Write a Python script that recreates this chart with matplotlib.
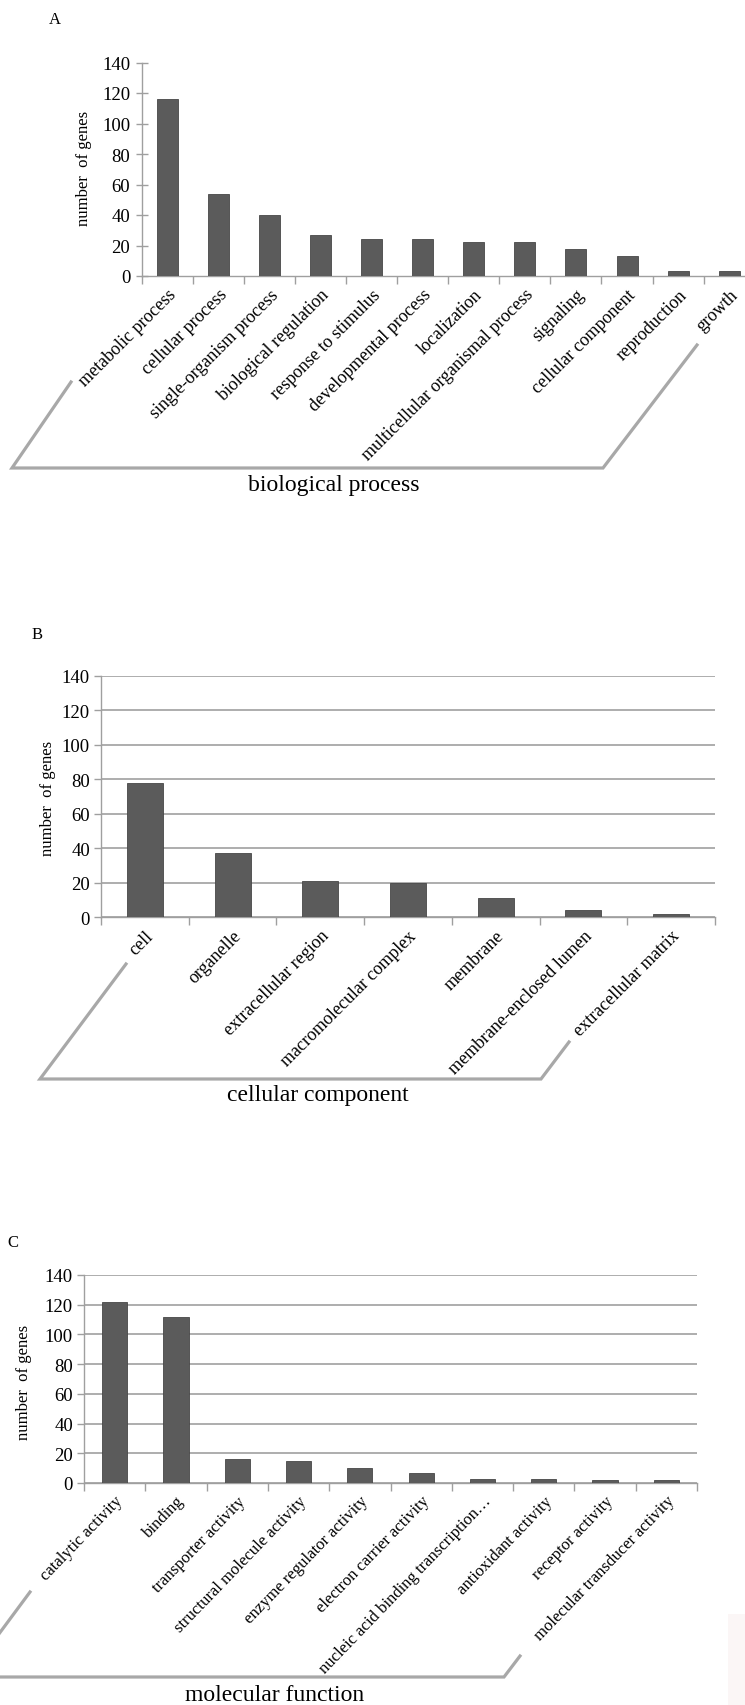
import matplotlib
matplotlib.use("Agg")
import matplotlib.pyplot as plt
from matplotlib.lines import Line2D
from matplotlib.patches import Rectangle

# ---- data -------------------------------------------------------------
bp_terms = ["metabolic process", "cellular process", "single-organism process",
            "biological regulation", "response to stimulus", "developmental process",
            "localization", "multicellular organismal process", "signaling",
            "cellular component", "reproduction", "growth"]
bp_counts = [116, 54, 40, 27, 24, 24, 22, 22, 18, 13, 3, 3]

cc_terms = ["cell", "organelle", "extracellular region", "macromolecular complex",
            "membrane", "membrane-enclosed lumen", "extracellular matrix"]
cc_counts = [78, 37, 21, 20, 11, 4, 2]

mf_terms = ["catalytic activity", "binding", "transporter activity",
            "structural molecule activity", "enzyme regulator activity",
            "electron carrier activity", "nucleic acid binding transcription\u2026",
            "antioxidant activity", "receptor activity", "molecular transducer activity"]
mf_counts = [122, 112, 16, 15, 10, 7, 3, 3, 2, 2]

y_ticks = [0, 20, 40, 60, 80, 100, 120, 140]

# ---- style ------------------------------------------------------------
W, H = 745, 1706
SERIF = ["Liberation Serif", "DejaVu Serif"]
BAR = "#5b5b5b"
BAR_EDGE = "#474747"
AXIS_GREY = "#9f9f9f"
BOX_GREY = "#a8a8a8"

plt.rcParams["font.family"] = SERIF

fig = plt.figure(figsize=(W / 100, H / 100), dpi=100)
fig.patch.set_facecolor("white")


def px_axes(left, top, right, bottom):
    """Axes rectangle given in pixel coordinates measured from the top-left."""
    return fig.add_axes([left / W, 1 - bottom / H, (right - left) / W, (bottom - top) / H])


def fx(x):
    return x / W


def fy(y):
    return 1 - y / H


def panel(ax, terms, counts, grid, ytick_dir, label_size, rot):
    n = len(terms)
    x = list(range(n))
    ax.bar(x, counts, width=0.41, color=BAR, edgecolor=BAR_EDGE, linewidth=0.6, zorder=3)
    ax.set_xlim(-0.5, n - 0.5)
    ax.set_ylim(0, 140)
    ax.set_yticks(y_ticks)
    ax.set_yticklabels([str(v) for v in y_ticks], fontsize=13.5, family=SERIF)
    for s in ("top", "right"):
        ax.spines[s].set_visible(False)
    for s in ("left", "bottom"):
        ax.spines[s].set_color(AXIS_GREY)
        ax.spines[s].set_linewidth(1.0)
    if grid:
        ax.yaxis.grid(True, color=AXIS_GREY, linewidth=1.2, zorder=0)
        ax.set_axisbelow(True)
    if ytick_dir == "inout":
        ax.tick_params(axis="y", direction="inout", length=8.5, width=1.0,
                       color=AXIS_GREY, pad=4)
    else:
        ax.tick_params(axis="y", direction="out", length=5, width=1.0,
                       color=AXIS_GREY, pad=3)
    # category labels at bar centres, tick marks at category boundaries
    ax.set_xticks(x)
    ax.set_xticklabels(terms, rotation=rot, ha="right", va="top",
                       rotation_mode="anchor", fontsize=label_size, family=SERIF)
    ax.set_xticks([i - 0.5 for i in range(n + 1)], minor=True)
    ax.tick_params(axis="x", which="major", length=0, pad=7)
    ax.tick_params(axis="x", which="minor", direction="out", length=6, width=1.0,
                   color=AXIS_GREY)


def frame(points):
    xs = [fx(p[0]) for p in points]
    ys = [fy(p[1]) for p in points]
    fig.add_artist(Line2D(xs, ys, transform=fig.transFigure, color=BOX_GREY,
                          linewidth=2.3, solid_joinstyle="miter", clip_on=False))


# ---- A: biological process -------------------------------------------
axA = px_axes(141.6, 63.5, 754.8, 277)
panel(axA, bp_terms, bp_counts, grid=False, ytick_dir="inout", label_size=13, rot=45)
fig.text(fx(55), fy(20), "A", fontsize=12, ha="center", va="center")
fig.text(fx(84), fy(168), "number  of genes", rotation=90, fontsize=12,
         ha="center", va="center")
frame([(71, 383), (12, 469), (603, 469), (697, 346)])
fig.text(fx(334), fy(486), "biological process", fontsize=17, ha="center", va="center")

# ---- B: cellular component -------------------------------------------
axB = px_axes(101, 676.7, 715, 918.3)
panel(axB, cc_terms, cc_counts, grid=True, ytick_dir="out", label_size=13, rot=45)
fig.text(fx(37), fy(635), "B", fontsize=12, ha="center", va="center")
fig.text(fx(48), fy(798), "number  of genes", rotation=90, fontsize=12,
         ha="center", va="center")
frame([(126, 965), (40, 1080), (541, 1080), (569, 1043)])
fig.text(fx(318), fy(1096), "cellular component", fontsize=17, ha="center", va="center")

# ---- C: molecular function -------------------------------------------
axC = px_axes(84, 1276, 697, 1484)
panel(axC, mf_terms, mf_counts, grid=True, ytick_dir="out", label_size=12, rot=46)
fig.text(fx(13), fy(1243), "C", fontsize=12, ha="center", va="center")
fig.text(fx(24), fy(1382), "number  of genes", rotation=90, fontsize=12,
         ha="center", va="center")
frame([(30, 1593), (-33, 1678), (504, 1678), (520, 1657)])
fig.text(fx(275), fy(1696), "molecular function", fontsize=17, ha="center", va="center")

# faint strip in the lower right corner
fig.add_artist(Rectangle((fx(728), 0), 17 / W, (H - 1615) / H, transform=fig.transFigure,
                         facecolor="#fbf6f6", edgecolor="none"))

fig.savefig("out.png", dpi=100, facecolor="white")
